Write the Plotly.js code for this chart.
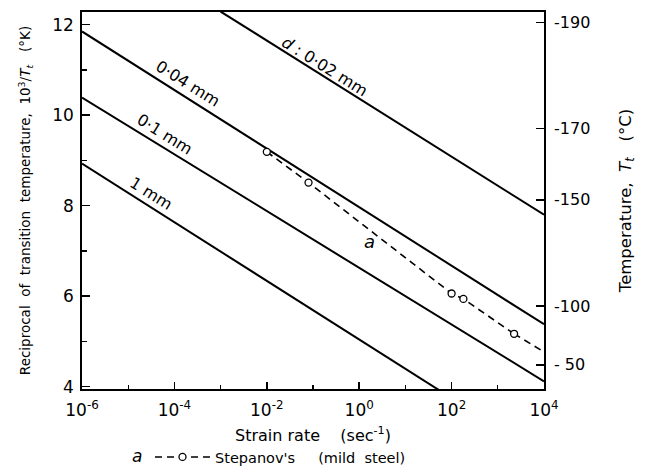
<!DOCTYPE html>
<html>
<head>
<meta charset="utf-8">
<script src="https://cdn.plot.ly/plotly-3.0.1.min.js"></script>
<style>html,body{margin:0;padding:0;background:#fff;}</style>
</head>
<body>
<div id="chart" style="width:647px;height:471px;"></div>
<script>
// Grain-size lines (strain rate vs 10^3/Tt), end points
const line1mmX = [1e-6, 65];
const line1mmY = [8.93, 3.87];
const line01mmX = [1e-6, 1e4];
const line01mmY = [10.39, 4.12];
const line004mmX = [1e-6, 1e4];
const line004mmY = [11.85, 5.38];
const line002mmX = [1e-3, 1e4];
const line002mmY = [12.29, 7.80];

// Stepanov's data (mild steel)
const stepanovX = [0.01, 0.08, 100, 180, 2250];
const stepanovY = [9.19, 8.51, 6.06, 5.94, 5.17];
const stepanovTailX = [2250, 1e4];
const stepanovTailY = [5.17, 4.77];

// Axis ticks
const xTickVals = [1e-6, 1e-4, 1e-2, 1, 1e2, 1e4];
const xTickText = ['10<sup>-6</sup>', '10<sup>-4</sup>', '10<sup>-2</sup>', '10<sup>0</sup>', '10<sup>2</sup>', '10<sup>4</sup>'];
const xMinorVals = [1e-5, 1e-3, 1e-1, 10, 1e3];
const yTickVals = [4, 6, 8, 10, 12];
const yMinorVals = [5, 7, 9, 11];
const tempC = [-190, -170, -150, -100, -50];
const tempText = ['-190', '-170', '-150', '-100', '- 50'];
const tempVals = tempC.map(c => 1000 / (c + 273));

const FONT = 'DejaVu Sans, Arial, sans-serif';
const lineStyle = {color: '#000', width: 2};

const traces = [
  {x: line1mmX, y: line1mmY, mode: 'lines', line: lineStyle, showlegend: false, hoverinfo: 'skip'},
  {x: line01mmX, y: line01mmY, mode: 'lines', line: lineStyle, showlegend: false, hoverinfo: 'skip'},
  {x: line004mmX, y: line004mmY, mode: 'lines', line: lineStyle, showlegend: false, hoverinfo: 'skip'},
  {x: line002mmX, y: line002mmY, mode: 'lines', line: lineStyle, showlegend: false, hoverinfo: 'skip'},
  {x: stepanovTailX, y: stepanovTailY, mode: 'lines', line: {color: '#000', width: 1.6, dash: '7px,5px'}, showlegend: false, hoverinfo: 'skip'},
  {x: stepanovX, y: stepanovY, mode: 'lines+markers', name: "Stepanov's&nbsp;&nbsp;&nbsp;&nbsp;&nbsp;(mild&nbsp; steel)",
   line: {color: '#000', width: 1.6, dash: '7px,5px'},
   marker: {symbol: 'circle', size: 7, color: '#fff', line: {width: 1.3, color: '#000'}}},
  {x: [1e-6], y: [4], yaxis: 'y2', mode: 'markers', marker: {opacity: 0}, showlegend: false, hoverinfo: 'skip'}
];

const ann = (x, y, text, angle, size) => ({
  x: x, y: y, xref: 'x', yref: 'y', text: text, showarrow: false, textangle: angle,
  font: {family: FONT, size: size || 16, color: '#000'}
});

const layout = {
  width: 647, height: 471,
  margin: {l: 82, r: 103, t: 12, b: 82, autoexpand: false},
  paper_bgcolor: '#fff', plot_bgcolor: '#fff',
  font: {family: FONT, color: '#000'},
  showlegend: true,
  legend: {x: (150 - 82) / 462, y: (389 - 457) / 377, xanchor: 'left', yanchor: 'middle', orientation: 'h',
           itemwidth: 55,
           font: {family: FONT, size: 14.5, color: '#000'}, bgcolor: 'rgba(0,0,0,0)'},
  xaxis: {
    type: 'log', range: [-6, 4],
    tickmode: 'array', tickvals: xTickVals, ticktext: xTickText,
    ticks: 'inside', ticklen: 7, tickwidth: 1.5, tickcolor: '#000',
    minor: {tickmode: 'array', tickvals: xMinorVals, ticks: 'inside', ticklen: 4, tickwidth: 1.2, tickcolor: '#000', showgrid: false},
    showline: true, linecolor: '#000', linewidth: 1.8, mirror: true,
    showgrid: false, zeroline: false,
    ticklabelstandoff: 5,
    tickfont: {family: FONT, size: 17, color: '#000'},
    title: {text: 'Strain rate&nbsp;&nbsp;&nbsp;&nbsp;(sec<sup>-1</sup>)', font: {family: FONT, size: 16, color: '#000'}, standoff: 10}
  },
  yaxis: {
    range: [3.95, 12.28],
    tickmode: 'array', tickvals: yTickVals,
    ticks: 'inside', ticklen: 8, tickwidth: 1.5, tickcolor: '#000',
    minor: {tickmode: 'array', tickvals: yMinorVals, ticks: 'inside', ticklen: 5, tickwidth: 1.2, tickcolor: '#000', showgrid: false},
    showline: true, linecolor: '#000', linewidth: 1.8,
    showgrid: false, zeroline: false,
    ticklabelstandoff: 3,
    tickfont: {family: FONT, size: 17, color: '#000'},
    title: {text: 'Reciprocal&nbsp; of&nbsp; transition&nbsp; temperature, &nbsp;10<sup>3</sup>/<i>T<sub>t</sub></i>&nbsp;&nbsp; (°K)', font: {family: FONT, size: 13.5, color: '#000'}, standoff: 18}
  },
  yaxis2: {
    overlaying: 'y', side: 'right', range: [3.95, 12.28],
    tickmode: 'array', tickvals: tempVals, ticktext: tempText,
    ticks: 'inside', ticklen: 8, tickwidth: 1.5, tickcolor: '#000',
    showline: true, linecolor: '#000', linewidth: 1.8,
    showgrid: false, zeroline: false,
    ticklabelstandoff: 5,
    tickfont: {family: FONT, size: 16, color: '#000'},
    title: {text: 'Temperature,&nbsp; <i>T<sub>t</sub></i>&nbsp;&nbsp; (°C)', font: {family: FONT, size: 16.5, color: '#000'}, standoff: 30}
  },
  annotations: [
    ann(-0.74, 11.08, '<i>d</i> : 0·02 mm', 32),
    ann(-3.71, 10.70, '0·04 mm', 32),
    ann(-4.2, 9.58, '0·1 mm', 32),
    ann(-4.5, 8.27, '1 mm', 32),
    ann(0.23, 7.2, '<i>a</i>', 0, 18),
    {x: (137 - 82) / 462, y: (389 - 456) / 377, xref: 'paper', yref: 'paper', xanchor: 'center', yanchor: 'middle',
     text: '<i>a</i>', showarrow: false, font: {family: FONT, size: 17, color: '#000'}}
  ]
};

Plotly.newPlot('chart', traces, layout, {displayModeBar: false, staticPlot: true});
</script>
</body>
</html>
